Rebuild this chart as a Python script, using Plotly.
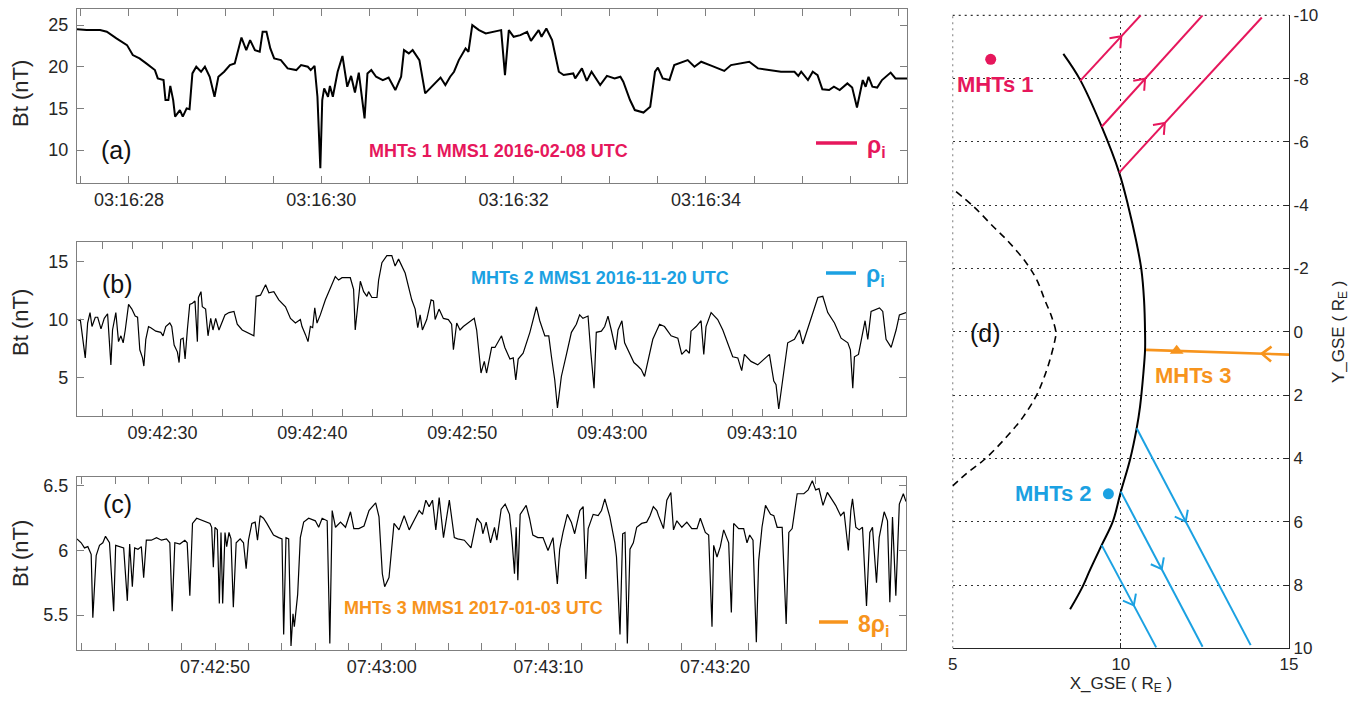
import math
import pandas as pd
import plotly.graph_objects as go

FONT = "Arial, 'Liberation Sans', Helvetica, sans-serif"
W, H = 1366, 702
FRAME = "#7f7f7f"
TXT = "#262626"
C_RED = "#E6175C"
C_BLUE = "#1BA1E2"
C_ORANGE = "#F7941D"

# ---------------- Panel (a): MHTs 1, MMS1 2016-02-08, seconds after 03:16:00 ----------------
a_date, a_hm = "2016-02-08", "03:16"
a_sec = [27.46, 27.56, 27.70, 27.77, 27.87, 27.98, 28.04, 28.11, 28.18, 28.27, 28.30, 28.36, 28.38,
         28.41, 28.43, 28.46, 28.48, 28.53, 28.56, 28.60, 28.63, 28.66, 28.70, 28.75, 28.79, 28.84,
         28.89, 28.93, 28.99, 29.05, 29.10, 29.13, 29.17, 29.22, 29.26, 29.31, 29.36, 29.39, 29.43,
         29.47, 29.51, 29.58, 29.65, 29.74, 29.79, 29.86, 29.89, 29.93, 29.96, 29.99, 30.01, 30.03,
         30.07, 30.09, 30.12, 30.17, 30.22, 30.27, 30.31, 30.35, 30.39, 30.45, 30.48, 30.52, 30.57,
         30.64, 30.70, 30.77, 30.83, 30.86, 30.91, 30.95, 31.02, 31.08, 31.15, 31.24, 31.29, 31.34,
         31.38, 31.43, 31.50, 31.53, 31.57, 31.64, 31.71, 31.81, 31.87, 31.91, 31.95, 32.00, 32.07,
         32.14, 32.18, 32.26, 32.29, 32.34, 32.40, 32.47, 32.52, 32.62, 32.64, 32.71, 32.76, 32.81,
         32.90, 32.97, 33.05, 33.11, 33.14, 33.21, 33.26, 33.35, 33.42, 33.47, 33.50, 33.55, 33.62,
         33.67, 33.74, 33.81, 33.88, 33.95, 34.06, 34.19, 34.26, 34.37, 34.45, 34.54, 34.64, 34.78,
         34.92, 34.96, 34.99, 35.06, 35.11, 35.16, 35.21, 35.28, 35.33, 35.39, 35.47, 35.52, 35.57,
         35.63, 35.66, 35.69, 35.73, 35.78, 35.83, 35.92, 35.97, 36.09]
a_bt = [24.5, 24.4, 24.4, 24.2, 23.4, 22.6, 21.4, 21.0, 20.4, 19.6, 18.6, 18.4, 16.0,
        16.0, 17.7, 16.0, 14.0, 14.8, 14.0, 15.0, 14.9, 19.2, 20.0, 19.4, 20.0, 18.8,
        16.4, 18.8, 19.4, 20.2, 20.4, 21.8, 23.5, 22.0, 23.2, 22.0, 21.8, 24.2, 24.2,
        22.2, 21.0, 20.8, 19.8, 19.6, 20.2, 20.0, 19.6, 20.1, 16.4, 7.8, 16.0, 17.4,
        16.4, 17.7, 16.4, 19.4, 21.3, 17.6, 18.9, 16.9, 19.3, 13.8, 19.2, 19.6, 18.8,
        18.4, 18.7, 17.2, 18.8, 22.0, 21.6, 22.0, 20.8, 16.8, 17.6, 18.7, 17.8, 18.8,
        19.4, 20.8, 22.2, 21.8, 25.0, 24.4, 24.0, 24.2, 24.4, 19.0, 24.4, 23.6, 23.8,
        24.2, 23.1, 24.4, 23.6, 24.6, 23.2, 19.4, 19.0, 19.2, 18.6, 19.8, 18.3, 19.4,
        17.8, 18.9, 18.6, 18.8, 18.2, 16.0, 14.8, 14.5, 15.2, 19.4, 19.9, 18.6, 18.4,
        20.2, 20.5, 20.8, 20.0, 20.6, 20.1, 19.5, 20.2, 20.4, 20.6, 19.8, 19.6, 19.4,
        19.4, 18.9, 19.4, 18.4, 19.4, 19.0, 17.3, 17.2, 17.6, 17.2, 18.0, 17.5, 15.1,
        18.4, 17.6, 18.8, 17.6, 17.5, 18.4, 19.3, 18.6, 18.6]
a_ticktext = ["03:16:28", "03:16:30", "03:16:32", "03:16:34"]

# ---------------- Panel (b): MHTs 2, MMS1 2016-11-20, seconds after 09:42:00 ----------------
b_date, b_hm = "2016-11-20", "09:42"
b_sec = [24.40, 24.52, 24.85, 25.01, 25.17, 25.30, 25.52, 25.68, 25.90, 26.12, 26.34, 26.45, 26.56,
         26.67, 26.89, 27.07, 27.23, 27.38, 27.52, 27.74, 27.96, 28.18, 28.34, 28.49, 28.67, 28.76,
         28.89, 29.07, 29.22, 29.56, 29.89, 30.04, 30.22, 30.49, 30.62, 30.78, 31.00, 31.11, 31.22,
         31.38, 31.51, 31.66, 31.82, 32.00, 32.17, 32.33, 32.40, 32.57, 32.66, 32.88, 33.04, 33.22,
         33.37, 33.55, 33.77, 34.17, 34.44, 34.77, 34.99, 35.32, 35.77, 36.10, 36.25, 36.54, 36.88,
         37.10, 37.43, 37.76, 38.21, 38.54, 38.87, 39.20, 39.31, 39.43, 39.54, 39.71, 39.87, 40.02,
         40.16, 40.31, 40.53, 40.87, 41.20, 41.53, 41.75, 41.98, 42.53, 42.75, 42.86, 42.97, 43.20,
         43.42, 43.64, 43.75, 43.97, 44.31, 44.42, 44.64, 44.97, 45.30, 45.52, 45.75, 46.19, 46.63,
         46.86, 47.03, 47.19, 47.34, 47.63, 47.92, 48.08, 48.19, 48.45, 48.74, 49.07, 49.29, 49.41,
         49.63, 49.85, 50.07, 50.40, 50.80, 50.96, 51.25, 51.47, 51.62, 51.96, 52.18, 52.62, 52.84,
         53.18, 53.40, 53.57, 53.73, 54.06, 54.51, 54.95, 55.17, 55.51, 55.77, 55.95, 56.17, 56.35,
         56.61, 56.95, 57.28, 57.61, 57.83, 58.05, 58.39, 58.56, 58.79, 58.94, 59.28, 59.50, 59.72,
         59.94, 60.23, 60.39, 60.65, 60.83, 61.16, 61.45, 61.71, 61.94, 62.16, 62.38, 62.71, 63.16,
         63.49, 63.93, 64.38, 64.64, 64.93, 65.15, 65.26, 65.60, 65.93, 66.11, 66.26, 66.60, 67.04,
         67.38, 67.71, 68.04, 68.38, 68.64, 68.82, 69.26, 69.71, 70.15, 70.49, 70.78, 70.93, 71.11,
         71.38, 71.60, 71.71, 72.16, 72.49, 72.71, 73.05, 73.38, 73.72, 74.05, 74.38, 74.83, 75.27,
         75.72, 75.89, 76.05, 76.16, 76.43, 76.72, 76.87, 77.05, 77.27, 77.83, 78.05, 78.27, 78.61,
         78.94, 79.16, 79.60]
b_bt = [9.9, 10.0, 6.7, 9.7, 10.6, 9.4, 10.2, 10.2, 9.2, 10.1, 10.5, 8.6, 6.1,
        9.1, 10.6, 8.1, 8.6, 8.0, 9.1, 11.3, 10.9, 10.3, 10.2, 7.4, 6.7, 6.0,
        8.3, 9.4, 9.3, 9.0, 8.9, 8.6, 9.4, 9.7, 9.4, 7.8, 7.2, 6.3, 8.3,
        8.4, 6.6, 9.1, 11.3, 11.4, 11.6, 8.1, 11.9, 12.4, 11.1, 10.9, 8.6, 10.1,
        9.1, 10.1, 9.1, 10.4, 10.6, 10.7, 9.6, 9.1, 8.8, 8.6, 12.0, 12.1, 13.0,
        12.3, 12.4, 11.7, 11.1, 10.1, 9.7, 10.0, 9.4, 9.1, 8.7, 8.1, 9.4, 9.3,
        11.0, 9.7, 10.4, 11.7, 12.7, 13.7, 13.4, 13.6, 13.6, 12.6, 9.1, 10.6, 13.3,
        12.4, 12.0, 12.4, 11.9, 11.9, 13.4, 14.9, 15.5, 15.5, 14.6, 15.2, 14.0, 11.7,
        10.9, 9.3, 10.4, 9.1, 10.0, 11.7, 11.6, 10.0, 10.9, 10.1, 10.0, 9.6, 7.4,
        9.7, 9.1, 9.4, 9.7, 10.1, 9.1, 5.4, 6.4, 5.4, 7.6, 7.6, 8.6, 7.6,
        6.6, 6.7, 4.8, 6.6, 7.1, 8.9, 11.1, 9.9, 8.6, 8.6, 6.8, 4.8, 2.4,
        5.1, 7.0, 8.9, 9.6, 10.4, 10.1, 10.3, 7.4, 4.1, 8.9, 9.0, 9.4, 10.3,
        9.1, 7.4, 9.1, 9.9, 8.0, 7.1, 6.3, 6.0, 5.7, 5.1, 6.3, 8.3, 9.6,
        9.4, 8.6, 8.4, 7.0, 7.4, 7.1, 9.0, 9.4, 9.9, 7.0, 9.4, 10.6, 10.0,
        9.1, 8.0, 6.8, 6.7, 5.6, 7.0, 6.4, 6.1, 6.6, 7.0, 4.7, 4.4, 2.3,
        4.8, 6.8, 8.0, 8.3, 9.1, 7.9, 9.2, 10.6, 11.9, 12.0, 10.6, 9.7, 8.4,
        8.0, 7.4, 4.1, 6.8, 7.0, 9.1, 9.9, 8.3, 10.7, 11.0, 10.7, 8.3, 7.6,
        9.1, 10.4, 10.6]
b_ticktext = ["09:42:30", "09:42:40", "09:42:50", "09:43:00", "09:43:10"]

# ---------------- Panel (c): MHTs 3, MMS1 2017-01-03, seconds after 07:42:00 ----------------
c_date, c_hm = "2017-01-03", "07:42"
c_sec = [41.72, 41.97, 42.17, 42.37, 42.57, 42.67, 42.87, 43.07, 43.27, 43.43, 43.67, 43.92, 44.04,
         44.28, 44.52, 44.74, 44.88, 45.04, 45.18, 45.38, 45.58, 45.72, 45.88, 46.18, 46.49, 46.79,
         47.09, 47.29, 47.43, 47.59, 47.89, 48.19, 48.33, 48.49, 48.65, 48.90, 49.30, 49.70, 49.80,
         49.90, 50.00, 50.14, 50.26, 50.36, 50.46, 50.60, 50.70, 50.84, 50.96, 51.10, 51.27, 51.51,
         51.71, 51.87, 52.01, 52.21, 52.41, 52.55, 52.71, 52.91, 53.11, 53.31, 53.51, 53.82, 54.02,
         54.12, 54.26, 54.42, 54.56, 54.68, 54.76, 54.96, 55.12, 55.32, 55.62, 56.02, 56.22, 56.43,
         56.73, 56.89, 57.03, 57.23, 57.53, 57.83, 58.13, 58.33, 58.63, 58.94, 59.24, 59.64, 59.84,
         60.04, 60.18, 60.44, 60.74, 61.04, 61.35, 61.65, 62.05, 62.25, 62.45, 62.65, 62.85, 63.05,
         63.25, 63.45, 63.71, 64.06, 64.36, 64.56, 64.96, 65.36, 65.72, 65.97, 66.07, 66.27, 66.53,
         66.77, 66.91, 67.17, 67.41, 67.67, 67.81, 67.97, 68.07, 68.17, 68.31, 68.47, 68.67, 68.87,
         69.07, 69.37, 69.68, 69.98, 70.28, 70.54, 70.68, 70.88, 71.14, 71.38, 71.58, 71.89, 72.09,
         72.25, 72.39, 72.69, 72.99, 73.19, 73.39, 73.69, 73.99, 74.09, 74.30, 74.46, 74.60, 74.74,
         74.90, 75.10, 75.30, 75.60, 75.90, 76.10, 76.30, 76.51, 76.61, 76.91, 77.11, 77.35, 77.51,
         77.71, 78.01, 78.31, 78.61, 78.92, 79.12, 79.42, 79.62, 79.82, 79.92, 80.12, 80.32, 80.52,
         80.82, 80.98, 81.12, 81.42, 81.72, 81.92, 82.08, 82.28, 82.48, 82.62, 82.82, 83.03, 83.33,
         83.53, 83.73, 84.03, 84.27, 84.43, 84.63, 84.93, 85.33, 85.59, 85.84, 86.04, 86.24, 86.48,
         86.74, 87.04, 87.24, 87.54, 87.74, 88.00, 88.15, 88.25, 88.45, 88.65, 88.85, 89.09, 89.29,
         89.45, 89.69, 89.85, 90.15, 90.35, 90.49, 90.65, 90.85, 91.06, 91.30, 91.46]
c_bt = [6.09, 6.06, 6.02, 6.03, 5.97, 5.48, 5.96, 6.04, 6.06, 6.11, 6.06, 5.53, 6.04,
        6.03, 6.02, 5.61, 6.05, 5.72, 6.02, 6.01, 6.03, 5.79, 6.08, 6.08, 6.10, 6.08,
        6.09, 6.06, 5.53, 6.06, 6.05, 6.08, 6.06, 5.65, 6.21, 6.25, 6.23, 6.21, 6.18,
        5.87, 6.18, 6.16, 5.59, 6.14, 5.59, 6.14, 6.03, 6.14, 6.09, 5.56, 6.06, 6.09,
        6.06, 5.86, 6.08, 6.21, 6.22, 6.08, 6.27, 6.25, 6.21, 6.16, 6.12, 6.10, 6.09,
        5.35, 6.10, 6.09, 5.26, 5.51, 5.41, 5.66, 6.10, 6.22, 6.25, 6.23, 6.18, 6.25,
        6.23, 5.28, 6.31, 6.18, 6.22, 6.18, 6.30, 6.17, 6.17, 6.19, 6.31, 6.37, 6.26,
        5.82, 5.72, 5.79, 6.21, 6.16, 6.27, 6.16, 6.26, 6.31, 6.28, 6.39, 6.34, 6.39,
        6.16, 6.41, 6.10, 6.39, 6.10, 6.09, 6.08, 6.02, 6.25, 6.21, 6.13, 6.22, 6.06,
        6.18, 6.08, 6.32, 6.36, 6.28, 6.10, 5.82, 6.18, 5.77, 6.28, 6.31, 6.35, 6.25,
        6.12, 6.10, 6.10, 6.00, 6.10, 5.74, 6.01, 6.14, 6.28, 6.22, 6.13, 6.31, 6.34,
        5.78, 6.17, 6.28, 6.27, 6.31, 6.40, 6.26, 6.06, 5.95, 5.35, 6.13, 6.14, 5.28,
        6.01, 6.06, 6.18, 6.21, 6.22, 6.27, 6.34, 6.31, 6.27, 6.17, 6.39, 6.45, 6.16,
        6.23, 6.18, 6.22, 6.17, 6.17, 6.25, 6.14, 6.12, 5.41, 6.04, 5.95, 6.03, 6.16,
        6.06, 5.52, 6.21, 6.17, 6.17, 6.06, 6.12, 6.08, 5.29, 5.92, 6.18, 6.35, 6.28,
        6.27, 6.18, 6.18, 5.43, 6.14, 6.17, 6.44, 6.44, 6.47, 6.54, 6.47, 6.48, 6.35,
        6.45, 6.39, 6.35, 6.27, 6.30, 6.00, 6.31, 6.40, 6.18, 6.16, 6.18, 5.57, 6.14,
        6.18, 5.75, 6.10, 6.30, 6.23, 5.60, 6.26, 5.65, 6.36, 6.44, 6.38]
c_ticktext = ["07:42:50", "07:43:00", "07:43:10", "07:43:20"]

# ---------------- Panel (d): GSE X-Y plane ----------------
mp_x = [8.29, 8.79, 9.43, 9.95, 10.22, 10.45, 10.61, 10.69, 10.72, 10.72, 10.67, 10.57, 10.47, 10.27,
        10.00, 9.76, 9.43, 9.08, 8.84, 8.49]
mp_y = [-8.78, -7.96, -6.48, -5.03, -3.97, -2.90, -1.97, -1.00, 0.03, 0.57, 1.31, 2.37, 3.05, 4.05,
        5.05, 6.00, 6.74, 7.53, 8.10, 8.77]
ms_x = [5.10, 5.61, 6.21, 6.70, 7.20, 7.50, 7.74, 7.94, 8.07, 8.04, 7.89, 7.69, 7.48, 7.10,
        6.61, 5.96, 5.42, 5.00]
ms_y = [-4.43, -3.97, -3.32, -2.80, -2.16, -1.64, -1.00, -0.48, 0.03, 0.26, 0.89, 1.52, 2.03,
        2.68, 3.31, 4.02, 4.47, 4.87]

# field lines: start (x0, y0) -> end (x1, y1); arrow at fraction along the line
mht1_x0 = [8.79, 9.43, 9.95]
mht1_y0 = [-7.93, -6.48, -5.03]
mht1_x1 = [10.59, 12.43, 14.19]
mht1_y1 = [-10.0, -10.0, -9.93]
mht1_frac = [0.68, 0.43, 0.32]

mht2_x0 = [10.47, 10.00, 9.43]
mht2_y0 = [3.05, 5.05, 6.74]
mht2_x1 = [13.86, 12.43, 11.05]
mht2_y1 = [9.90, 9.95, 9.97]
mht2_frac = [0.43, 0.50, 0.59]

mht3_x0 = [15.0]
mht3_y0 = [0.72]
mht3_x1 = [10.75]
mht3_y1 = [0.57]
mht3_frac = [0.19]

sc_x = [6.13, 9.63, 11.66]
sc_y = [-8.61, 5.12, 0.60]
sc_name = ["MHTs 1", "MHTs 2", "MHTs 3"]

y4_ticks = [-10, -8, -6, -4, -2, 0, 2, 4, 6, 8, 10]
y4_labels = ["-10", "-8", "-6", "-4", "-2", "0", "2", "4", "6", "8", "10"]
x4_ticks = [5, 10, 15]

# panel d plot area in pixels (for arrow-head geometry only)
D_LEFT, D_RIGHT, D_TOP, D_BOTTOM = 952.7, 1289.0, 15.3, 648.3
SX = (D_RIGHT - D_LEFT) / 10.0     # px per X unit
SY = (D_BOTTOM - D_TOP) / 20.0     # px per Y unit (Y axis reversed: +Y is downward on screen)


def times(date, hm, secs):
    base = pd.Timestamp(f"{date} {hm}:00")
    return [(base + pd.Timedelta(seconds=s)).strftime("%Y-%m-%d %H:%M:%S.%f") for s in secs]


def tickdates(date, labels):
    return [f"{date} {t}" for t in labels]


def px(x):
    return x / W


def py(y):
    return 1 - y / H


def chevron(x0, y0, x1, y1, f, arm=12.0, half_angle=38.0):
    """Open 'V' arrow head at fraction f along the line (x0,y0)->(x1,y1), pointing toward (x1,y1)."""
    tx, ty = x0 + f * (x1 - x0), y0 + f * (y1 - y0)
    ux, uy = (x1 - x0) * SX, (y1 - y0) * SY
    n = math.hypot(ux, uy)
    ux, uy = ux / n, uy / n
    xs, ys = [], []
    for s in (1, -1):
        a = math.radians(half_angle) * s
        bx = -(ux * math.cos(a) - uy * math.sin(a))
        by = -(ux * math.sin(a) + uy * math.cos(a))
        xs.append(tx + arm * bx / SX)
        ys.append(ty + arm * by / SY)
    return [xs[0], tx, xs[1]], [ys[0], ty, ys[1]]


fig = go.Figure()

fig.add_trace(go.Scatter(x=times(a_date, a_hm, a_sec), y=a_bt, mode="lines",
                         line=dict(color="black", width=2), xaxis="x", yaxis="y", showlegend=False))
fig.add_trace(go.Scatter(x=times(b_date, b_hm, b_sec), y=b_bt, mode="lines",
                         line=dict(color="black", width=1.2), xaxis="x2", yaxis="y2", showlegend=False))
fig.add_trace(go.Scatter(x=times(c_date, c_hm, c_sec), y=c_bt, mode="lines",
                         line=dict(color="black", width=1.2), xaxis="x3", yaxis="y3", showlegend=False))

# panel d curves
fig.add_trace(go.Scatter(x=ms_x, y=ms_y, mode="lines",
                         line=dict(color="black", width=1.6, dash="7px,5px", shape="spline"),
                         xaxis="x4", yaxis="y4", showlegend=False))
fig.add_trace(go.Scatter(x=mp_x, y=mp_y, mode="lines", line=dict(color="black", width=2, shape="spline"),
                         xaxis="x4", yaxis="y4", showlegend=False))

for xs0, ys0, xs1, ys1, fr, col, lw in [
    (mht1_x0, mht1_y0, mht1_x1, mht1_y1, mht1_frac, C_RED, 2),
    (mht2_x0, mht2_y0, mht2_x1, mht2_y1, mht2_frac, C_BLUE, 2),
    (mht3_x0, mht3_y0, mht3_x1, mht3_y1, mht3_frac, C_ORANGE, 2.6),
]:
    for x0, y0, x1, y1, f in zip(xs0, ys0, xs1, ys1, fr):
        fig.add_trace(go.Scatter(x=[x0, x1], y=[y0, y1], mode="lines", line=dict(color=col, width=lw),
                                 xaxis="x4", yaxis="y4", showlegend=False))
        hx, hy = chevron(x0, y0, x1, y1, f)
        fig.add_trace(go.Scatter(x=hx, y=hy, mode="lines", line=dict(color=col, width=lw),
                                 xaxis="x4", yaxis="y4", showlegend=False))

fig.add_trace(go.Scatter(x=sc_x, y=sc_y, mode="markers",
                         marker=dict(color=[C_RED, C_BLUE, C_ORANGE], size=[11, 11, 12], opacity=1,
                                     symbol=["circle", "circle", "triangle-up"], line=dict(width=0)),
                         xaxis="x4", yaxis="y4", showlegend=False, text=sc_name))

tickfont = dict(family=FONT, size=18, color=TXT)
common_x = dict(type="date", tickmode="array", ticks="inside", ticklen=7, tickcolor=FRAME, tickwidth=1,
                showline=True, linecolor=FRAME, linewidth=1.3, mirror="ticks", showgrid=False, zeroline=False,
                tickfont=tickfont, automargin=False)
common_y = dict(ticks="inside", ticklen=7, tickcolor=FRAME, tickwidth=1, showline=True, linecolor=FRAME,
                linewidth=1.3, mirror="ticks", showgrid=False, zeroline=False, tickfont=tickfont,
                ticklabelstandoff=4, automargin=False)
GRID = dict(showgrid=True, griddash="2px,4px", gridcolor="#333333", gridwidth=1.3)

fig.update_layout(
    width=W, height=H, margin=dict(l=0, r=0, t=0, b=0, autoexpand=False),
    plot_bgcolor="white", paper_bgcolor="white",
    font=dict(family=FONT, color=TXT),
    xaxis=dict(common_x, domain=[px(77), px(907)], anchor="y",
               range=["2016-02-08 03:16:27.46", "2016-02-08 03:16:36.09"],
               tickvals=tickdates(a_date, a_ticktext), ticktext=a_ticktext,
               minor=dict(tickmode="linear", tick0="2016-02-08 03:16:28", dtick=500,
                          ticks="inside", ticklen=7, tickcolor=FRAME)),
    yaxis=dict(common_y, domain=[py(183.3), py(9.3)], anchor="x", range=[6.0, 26.9], tick0=0, dtick=5),
    xaxis2=dict(common_x, domain=[px(77), px(906)], anchor="y2",
                range=["2016-11-20 09:42:24.30", "2016-11-20 09:43:19.60"],
                tickvals=tickdates(b_date, b_ticktext), ticktext=b_ticktext,
                minor=dict(tickmode="linear", tick0="2016-11-20 09:42:30", dtick=2000,
                           ticks="inside", ticklen=7, tickcolor=FRAME)),
    yaxis2=dict(common_y, domain=[py(416), py(241.7)], anchor="x2", range=[1.7, 16.7], tick0=0, dtick=5),
    xaxis3=dict(common_x, domain=[px(77), px(906)], anchor="y3",
                range=["2017-01-03 07:42:41.72", "2017-01-03 07:43:31.46"],
                tickvals=tickdates(c_date, c_ticktext), ticktext=c_ticktext,
                minor=dict(tickmode="linear", tick0="2017-01-03 07:42:50", dtick=2000,
                           ticks="inside", ticklen=7, tickcolor=FRAME)),
    yaxis3=dict(common_y, domain=[py(650), py(476.7)], anchor="x3", range=[5.229, 6.572], tick0=5.5, dtick=0.5),
    xaxis4=dict(GRID, domain=[px(D_LEFT), px(D_RIGHT)], anchor="y4", range=[5, 15], tickvals=x4_ticks,
                showline=True, linecolor=TXT, linewidth=1.3, ticks="inside", ticklen=5, tickcolor=TXT,
                zeroline=False, tickfont=dict(family=FONT, size=17, color=TXT), automargin=False,
                title=dict(text="X_GSE ( R<sub>E</sub> )", font=dict(family=FONT, size=17, color=TXT), standoff=3)),
    yaxis4=dict(GRID, domain=[py(D_BOTTOM), py(D_TOP)], anchor="x4", side="right", range=[10, -10],
                tickvals=y4_ticks, ticktext=y4_labels,
                showline=True, linecolor=TXT, linewidth=1.3, ticks="inside", ticklen=5, tickcolor=TXT,
                zeroline=False, tickfont=dict(family=FONT, size=17, color=TXT), automargin=False,
                title=dict(text="Y_GSE ( R<sub>E</sub> )", font=dict(family=FONT, size=17, color=TXT), standoff=14)),
)

shapes = []
# dotted grid lines lying on the open (top / left) edges of panel d
shapes.append(dict(type="line", xref="x4 domain", yref="y4 domain", x0=0, x1=1, y0=1, y1=1,
                   line=dict(color="#333333", width=1.3, dash="2px,4px"), layer="below"))
shapes.append(dict(type="line", xref="x4 domain", yref="y4 domain", x0=0, x1=0, y0=0, y1=1,
                   line=dict(color="#999999", width=1.3, dash="2px,4px"), layer="below"))

annotations = []


def note(x, y, text, size, color, xanchor="center", angle=0):
    annotations.append(dict(x=px(x), y=py(y), xref="paper", yref="paper", text=text, textangle=angle,
                            xanchor=xanchor, yanchor="middle", showarrow=False,
                            font=dict(family=FONT, size=size, color=color)))


# y-axis titles of panels a-c
for yc in [94, 323, 554]:
    note(20, yc, "Bt (nT)", 22, TXT, angle=-90)

# panel labels
for lab, xc, yc in [("(a)", 116, 150), ("(b)", 117, 284), ("(c)", 117, 504)]:
    note(xc, yc, lab, 25, "#111111")
annotations.append(dict(x=5.99, y=0.03, xref="x4", yref="y4", text="(d)", showarrow=False,
                        xanchor="center", yanchor="middle", font=dict(family=FONT, size=25, color="#111111")))

# event captions
for txt, xc, yc, col in [("MHTs 1 MMS1 2016-02-08 UTC", 498, 151, C_RED),
                         ("MHTs 2 MMS1 2016-11-20 UTC", 600, 278, C_BLUE),
                         ("MHTs 3 MMS1 2017-01-03 UTC", 473, 608, C_ORANGE)]:
    note(xc, yc, f"<b>{txt}</b>", 18, col)

# scale bars (rho_i)
for x0, x1, yy, lab, col in [(816, 857, 143, "ρ<sub>i</sub>", C_RED),
                             (826, 856, 273, "ρ<sub>i</sub>", C_BLUE),
                             (819, 848, 622, "8ρ<sub>i</sub>", C_ORANGE)]:
    shapes.append(dict(type="line", xref="paper", yref="paper", x0=px(x0), x1=px(x1), y0=py(yy), y1=py(yy),
                       line=dict(color=col, width=3.5)))
    note(x1 + 8, yy + 3, f"<b>{lab}</b>", 23, col, xanchor="left")

# spacecraft labels in panel d
annotations.append(dict(x=6.26, y=-7.82, xref="x4", yref="y4", text="<b>MHTs 1</b>", showarrow=False,
                        xanchor="center", yanchor="middle", font=dict(family=FONT, size=22, color=C_RED)))
annotations.append(dict(x=9.2, y=5.12, xref="x4", yref="y4", text="<b>MHTs 2</b>", showarrow=False,
                        xanchor="right", yanchor="middle", font=dict(family=FONT, size=22, color=C_BLUE)))
annotations.append(dict(x=12.15, y=1.38, xref="x4", yref="y4", text="<b>MHTs 3</b>", showarrow=False,
                        xanchor="center", yanchor="middle", font=dict(family=FONT, size=22, color=C_ORANGE)))

fig.update_layout(annotations=annotations, shapes=shapes)
fig.write_html("out.html")
